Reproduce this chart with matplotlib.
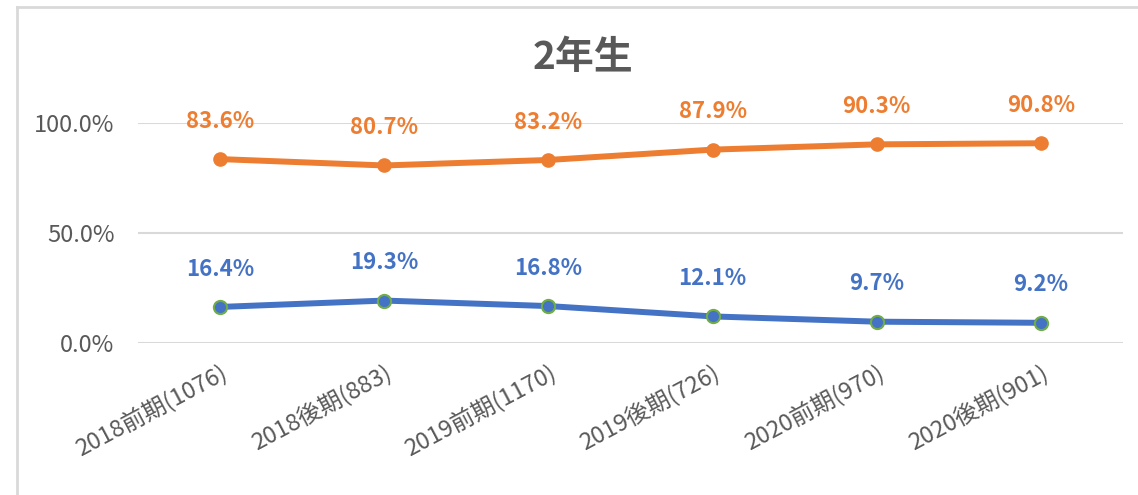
import matplotlib.pyplot as plt
from matplotlib.lines import Line2D

plt.rcParams['font.family'] = ['Noto Sans CJK JP', 'DejaVu Sans']

# データ
categories = ["2018前期(1076)", "2018後期(883)", "2019前期(1170)",
              "2019後期(726)", "2020前期(970)", "2020後期(901)"]
orange_vals = [0.836, 0.807, 0.832, 0.879, 0.903, 0.908]
blue_vals = [0.164, 0.193, 0.168, 0.121, 0.097, 0.092]
yticks = [0.0, 0.5, 1.0]
ytick_labels = ["0.0%", "50.0%", "100.0%"]

ORANGE = "#ED7D31"
BLUE = "#4472C4"
GREEN = "#70AD47"
GRID = "#D9D9D9"
TXT = "#595959"

fig = plt.figure(figsize=(11.38, 4.95), dpi=100)
ax = fig.add_axes([0.1213, 0.307, 0.8655, 0.4445])

x = list(range(len(categories)))
ax.plot(x, orange_vals, color=ORANGE, lw=4.3, marker="o", ms=9.5,
        mfc=ORANGE, mec=ORANGE, solid_capstyle="round", zorder=3)
ax.plot(x, blue_vals, color=BLUE, lw=4.3, marker="o", ms=9.5,
        mfc=BLUE, mec=GREEN, mew=1.5, solid_capstyle="round", zorder=3)

# データラベル
for i, v in enumerate(orange_vals):
    ax.annotate(f"{v*100:.1f}%", (i, v), xytext=(0, 19), textcoords="offset points",
                ha="center", va="bottom", color=ORANGE, fontsize=16, fontweight="bold")
for i, v in enumerate(blue_vals):
    ax.annotate(f"{v*100:.1f}%", (i, v), xytext=(0, 19), textcoords="offset points",
                ha="center", va="bottom", color=BLUE, fontsize=16, fontweight="bold")

ax.set_xlim(-0.5, len(categories) - 0.5)
ax.set_ylim(0, 1.0)
ax.set_yticks(yticks)
ax.set_yticklabels(ytick_labels, color=TXT, fontsize=17)
ax.set_xticks(x)
ax.set_xticklabels(categories, rotation=28, ha="right", rotation_mode="anchor",
                   color=TXT, fontsize=17)
ax.tick_params(length=0, axis="y", pad=17)
ax.tick_params(length=0, axis="x", pad=13)
ax.grid(axis="y", color=GRID, lw=1.5)
ax.set_axisbelow(True)
for s in ax.spines.values():
    s.set_visible(False)

fig.text(0.512, 0.883, "2年生", ha="center", va="center", fontsize=28,
         fontweight="bold", color=TXT)

# 枠線
fig.add_artist(Line2D([0.015, 1.0], [0.986, 0.986], color=GRID, lw=2,
                      transform=fig.transFigure))
fig.add_artist(Line2D([0.015, 0.015], [0.0, 0.986], color=GRID, lw=2,
                      transform=fig.transFigure))

fig.savefig("out.png", dpi=100)
